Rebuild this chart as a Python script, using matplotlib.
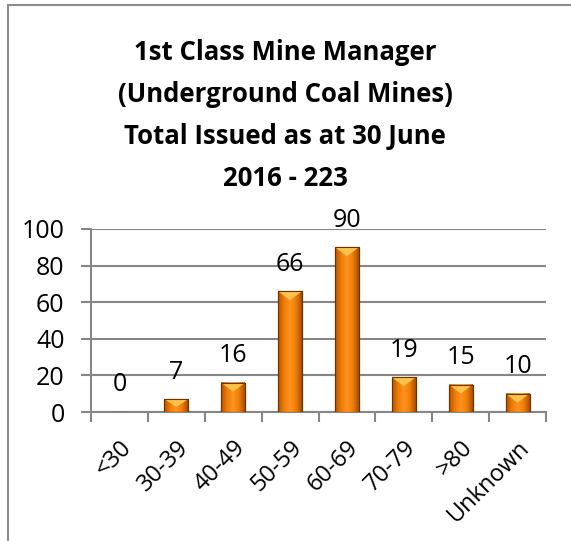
import numpy as np
import matplotlib
matplotlib.use("Agg")
import matplotlib.pyplot as plt
from matplotlib.patches import Polygon, Rectangle
from matplotlib.colors import LinearSegmentedColormap

# data
age_groups = ["<30", "30-39", "40-49", "50-59", "60-69", "70-79", ">80", "Unknown"]
issued = [0, 7, 16, 66, 90, 19, 15, 10]
y_ticks = [0, 20, 40, 60, 80, 100]
title = "1st Class Mine Manager\n(Underground Coal Mines)\nTotal Issued as at 30 June\n2016 - 223"

plt.rcParams["font.family"] = ["Open Sans", "DejaVu Sans"]

W, H = 571, 541
fig = plt.figure(figsize=(W / 100, H / 100), dpi=100)
ax = fig.add_axes([91 / W, 1 - 412 / H, (546 - 91) / W, (412 - 229) / H])

# outer chart frame (only top and left visible in the crop)
fig.add_artist(Rectangle((8 / W, -0.05), 1.2, 1.05 - 5 / H, transform=fig.transFigure,
                         fill=False, edgecolor="#8c8c8c", linewidth=1.5))

x = np.arange(len(age_groups))
bars = ax.bar(x, issued, width=0.42, color="#f58a0a", edgecolor="#6b3300",
              linewidth=0.8, zorder=3)

# horizontal shading on each bar plus a light bevel at the top
shade = LinearSegmentedColormap.from_list(
    "shade", ["#b45400", "#ee7d05", "#ff9320", "#f07f06", "#a84d00"])
grad = np.linspace(0, 1, 64).reshape(1, -1)
px_per_unit = (412 - 229) / 100.0
for b in bars:
    x0, w, h = b.get_x(), b.get_width(), b.get_height()
    if h <= 0:
        continue
    ax.imshow(grad, cmap=shade, extent=[x0, x0 + w, 0, h], aspect="auto",
              zorder=3.1, interpolation="bicubic")
    bev = min(9 / px_per_unit, h * 0.6)
    ax.add_patch(Polygon([(x0, h), (x0 + w, h), (x0 + w / 2, h - bev)],
                         closed=True, facecolor="#ffc24a", edgecolor="none",
                         zorder=3.2))
    ax.add_patch(Rectangle((x0, 0), w, h, fill=False, edgecolor="#6b3300",
                           linewidth=0.8, zorder=3.3))

for xi, v in zip(x, issued):
    ax.annotate(str(v), (xi, v), xytext=(0, 19.5), textcoords="offset points",
                ha="center", va="center", fontsize=18, color="black")

ax.set_xlim(-0.5, len(age_groups) - 0.5)
ax.set_ylim(0, 100)
ax.set_yticks(y_ticks)
ax.set_yticklabels([str(t) for t in y_ticks], fontsize=18)
ax.set_xticks(np.arange(len(age_groups) + 1) - 0.5)
ax.set_xticklabels([])
ax.set_xticks(x, minor=True)
ax.set_xticklabels(age_groups, minor=True, rotation=45, ha="right", va="top",
                   rotation_mode="anchor", fontsize=17)
ax.tick_params(axis="x", which="minor", length=0, pad=17)
ax.tick_params(axis="x", which="major", length=7, width=1.5, color="#868686")
ax.tick_params(axis="y", length=7, width=1.5, color="#868686", pad=12)

ax.grid(axis="y", color="#868686", linewidth=1.5, zorder=0)
ax.set_axisbelow(True)
for s in ["top", "right"]:
    ax.spines[s].set_visible(False)
for s in ["left", "bottom"]:
    ax.spines[s].set_color("#868686")
    ax.spines[s].set_linewidth(1.5)

fig.text(285 / W, 1 - 39 / H, title, ha="center", va="top", fontsize=18.5,
         fontweight="bold", linespacing=1.72)

fig.savefig("out.png", dpi=100)
